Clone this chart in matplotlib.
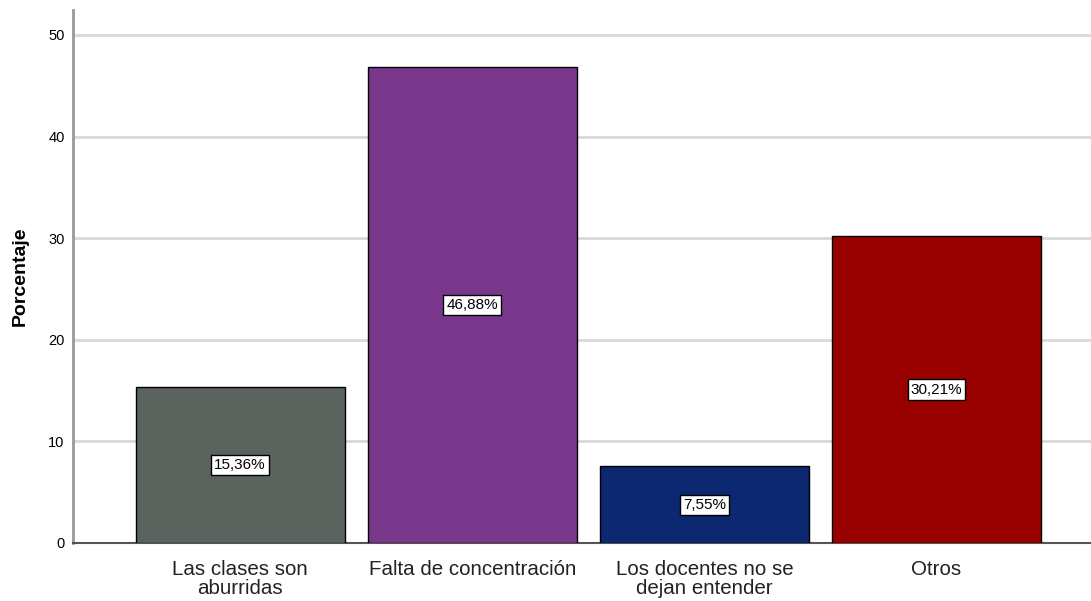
import matplotlib
matplotlib.use("Agg")
import matplotlib.pyplot as plt
import numpy as np

categories = ["Las clases son\naburridas", "Falta de concentración",
              "Los docentes no se\ndejan entender", "Otros"]
values = [15.36, 46.88, 7.55, 30.21]
labels = ["15,36%", "46,88%", "7,55%", "30,21%"]
colors = ["#5b635e", "#79378c", "#0b2870", "#990000"]
yticks = [0, 10, 20, 30, 40, 50]

plt.rcParams['font.family'] = ['Liberation Sans', 'DejaVu Sans']

fig = plt.figure(figsize=(10.91, 6.01), dpi=100)
ax = fig.add_axes([73 / 1091, 1 - 543 / 601, 1 - 73 / 1091, (543 - 10) / 601])

x = np.arange(len(categories))
ax.bar(x, values, width=0.9, color=colors, edgecolor="black", linewidth=1, zorder=3)

for xi, v, lab in zip(x, values, labels):
    ax.text(xi, v / 2, lab, ha="center", va="center", fontsize=11, zorder=4,
            bbox=dict(boxstyle="square,pad=0.2", facecolor="white", edgecolor="black", linewidth=1))

ax.set_xlim(-0.72, 3.666)
ax.set_ylim(0, 52.46)
ax.set_yticks(yticks)
ax.set_xticks(x)
ax.set_xticklabels(categories, fontsize=14.8, color="#222222", linespacing=1.05)
ax.tick_params(axis="both", length=0)
ax.tick_params(axis="y", labelsize=10.5, pad=6)
ax.tick_params(axis="x", pad=12)
ax.yaxis.grid(True, color="#d9d9d9", linewidth=2, zorder=0)

for s in ["top", "right"]:
    ax.spines[s].set_visible(False)
ax.spines["left"].set_color("#999999")
ax.spines["left"].set_linewidth(2)
ax.spines["bottom"].set_color("#555555")
ax.spines["bottom"].set_linewidth(1.5)

ax.set_ylabel("Porcentaje", fontsize=14, fontweight="bold", labelpad=14)

fig.savefig("out.png", dpi=100)
